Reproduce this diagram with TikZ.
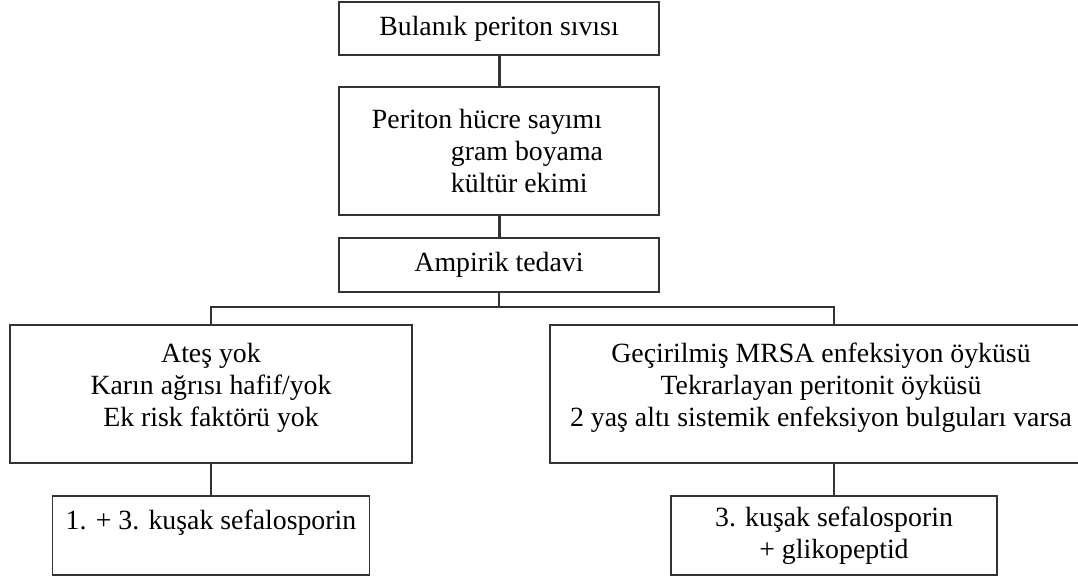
\documentclass[tikz,border=0pt]{standalone}
\usepackage{fontspec}
\setmainfont{Liberation Serif}
\usetikzlibrary{positioning}
\tikzset{
  kutu/.style={draw=black!80, line width=1.3pt, align=center, inner sep=0pt,
    font=\fontsize{27.8}{32}\selectfont},
  kalin/.style={draw=black!80, line width=3pt},
  ince/.style={draw=black!80, line width=1.2pt},
}
\begin{document}
\begin{tikzpicture}[x=1pt,y=-1pt]
\useasboundingbox (0,0) rectangle (1078,577);
\clip (0,0) rectangle (1078,577);
% ust kutular
\node[kutu, minimum width=320pt, minimum height=53pt] (sivi) at (499,28.5) {Bulanık periton sıvısı};
\node[kutu, minimum width=320pt, minimum height=128pt, align=left] (sayim) at (499,151)
  {Periton hücre sayımı\hspace*{24pt}\\ \hspace*{79pt}gram boyama\\ \hspace*{79pt}kültür ekimi};
\node[kutu, minimum width=320pt, minimum height=54pt] (tedavi) at (499,265) {Ampirik tedavi};
\coordinate (catal) at (499,307);
% dallar
\node[kutu, minimum width=402pt, minimum height=138pt] (hafif) at (211,394)
  {Ateş yok\\ Karın ağrısı hafif/yok\\ Ek risk faktörü yok\\[-14pt]~};
\node[kutu, minimum width=542pt, minimum height=138pt] (agir) at (821,394)
  {Geçirilmiş MRSA enfeksiyon öyküsü\\ Tekrarlayan peritonit öyküsü\\ 2 yaş altı sistemik enfeksiyon bulguları varsa\\[-14pt]~};
\node[kutu, minimum width=317pt, minimum height=79pt] (sef1) at (211,535.5)
  {1. + 3. kuşak sefalosporin\\~};
\node[kutu, minimum width=326pt, minimum height=79pt] (sef3) at (834,535.5)
  {3. kuşak sefalosporin\\ + glikopeptid};
% baglantilar
\draw[kalin] (sivi) -- (sayim);
\draw[kalin] (sayim) -- (tedavi);
\draw[ince] (tedavi) -- (catal);
\draw[ince] (catal) -| (hafif);
\draw[ince] (catal) -| (sef3 |- agir.north);
\draw[ince] (hafif) -- (sef1);
\draw[ince] (sef3 |- agir.south) -- (sef3);
\end{tikzpicture}
\end{document}
